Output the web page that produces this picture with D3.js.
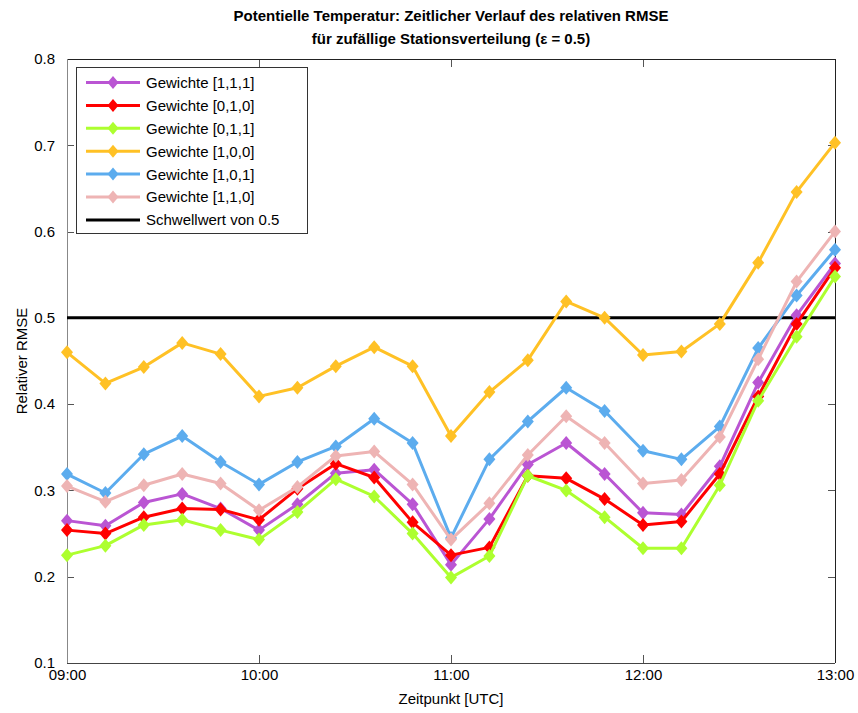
<!DOCTYPE html>
<html>
<head>
<meta charset="utf-8">
<script src="https://cdn.jsdelivr.net/npm/d3@7"></script>
<style>
  html, body { margin: 0; padding: 0; background: #fff; }
  svg { display: block; font-family: "Liberation Sans", Arial, sans-serif; }
</style>
</head>
<body>
<svg id="chart" width="858" height="713"></svg>
<script>
// Time points in hours (09:00 .. 13:00, every 12 minutes)
const times = [9.0, 9.2, 9.4, 9.6, 9.8, 10.0, 10.2, 10.4, 10.6, 10.8, 11.0,
               11.2, 11.4, 11.6, 11.8, 12.0, 12.2, 12.4, 12.6, 12.8, 13.0];

// Relative RMSE per weighting
const w111 = [0.265, 0.259, 0.286, 0.296, 0.279, 0.254, 0.284, 0.320, 0.324, 0.284, 0.214,
              0.267, 0.330, 0.355, 0.319, 0.274, 0.272, 0.328, 0.425, 0.503, 0.563];
const w010 = [0.254, 0.250, 0.269, 0.279, 0.278, 0.266, 0.302, 0.331, 0.315, 0.263, 0.225,
              0.234, 0.317, 0.314, 0.290, 0.260, 0.264, 0.319, 0.409, 0.493, 0.558];
const w011 = [0.225, 0.236, 0.260, 0.266, 0.254, 0.243, 0.275, 0.313, 0.293, 0.250, 0.199,
              0.224, 0.317, 0.300, 0.269, 0.233, 0.233, 0.306, 0.404, 0.478, 0.548];
const w100 = [0.460, 0.424, 0.443, 0.471, 0.458, 0.409, 0.419, 0.444, 0.466, 0.444, 0.363,
              0.414, 0.451, 0.519, 0.500, 0.457, 0.461, 0.493, 0.564, 0.646, 0.703];
const w101 = [0.319, 0.297, 0.342, 0.363, 0.333, 0.307, 0.333, 0.351, 0.383, 0.355, 0.245,
              0.336, 0.380, 0.419, 0.392, 0.346, 0.336, 0.374, 0.465, 0.526, 0.579];
const w110 = [0.305, 0.287, 0.306, 0.319, 0.308, 0.277, 0.304, 0.340, 0.345, 0.307, 0.243,
              0.285, 0.341, 0.386, 0.355, 0.308, 0.312, 0.362, 0.452, 0.542, 0.600];

const threshold = 0.5;

const seriesNames = ["Gewichte [1,1,1]", "Gewichte [0,1,0]", "Gewichte [0,1,1]",
                     "Gewichte [1,0,0]", "Gewichte [1,0,1]", "Gewichte [1,1,0]"];
const seriesColors = ["#ba55d3", "#ff0000", "#adff2f", "#ffc125", "#5cacee", "#eeb4b4"];
const seriesValues = [w111, w010, w011, w100, w101, w110];
const thresholdLabel = "Schwellwert von 0.5";

const xTicks = [9, 10, 11, 12, 13];
const xTickLabels = ["09:00", "10:00", "11:00", "12:00", "13:00"];
const yTicks = [0.1, 0.2, 0.3, 0.4, 0.5, 0.6, 0.7, 0.8];

const titleLines = ["Potentielle Temperatur: Zeitlicher Verlauf des relativen RMSE",
                    "für zufällige Stationsverteilung (ε = 0.5)"];
const xLabel = "Zeitpunkt [UTC]";
const yLabel = "Relativer RMSE";

// Layout
const svg = d3.select("#chart");
const plot = { left: 67, right: 835, top: 59, bottom: 663 };

const x = d3.scaleLinear().domain([9, 13]).range([plot.left, plot.right]);
const y = d3.scaleLinear().domain([0.1, 0.8]).range([plot.bottom, plot.top]);

// Title
svg.append("g").selectAll("text").data(titleLines).join("text")
  .attr("x", (plot.left + plot.right) / 2)
  .attr("y", (d, i) => 21 + i * 22.5)
  .attr("text-anchor", "middle")
  .attr("font-size", 15)
  .attr("font-weight", "bold")
  .attr("fill", "#000")
  .text(d => d);

// Axes (ticks point inward, mirrored on opposite sides)
const tickFont = 15;
const gx = svg.append("g").attr("transform", `translate(0,${plot.bottom})`)
  .call(d3.axisBottom(x).tickValues(xTicks).tickFormat((d, i) => xTickLabels[i])
        .tickSizeInner(-8).tickSizeOuter(0).tickPadding(12));
const gxTop = svg.append("g").attr("transform", `translate(0,${plot.top})`)
  .call(d3.axisTop(x).tickValues(xTicks).tickFormat("").tickSizeInner(-8).tickSizeOuter(0));
const gy = svg.append("g").attr("transform", `translate(${plot.left},0)`)
  .call(d3.axisLeft(y).tickValues(yTicks).tickFormat(d3.format(".1f"))
        .tickSizeInner(-7).tickSizeOuter(0).tickPadding(12));
const gyRight = svg.append("g").attr("transform", `translate(${plot.right},0)`)
  .call(d3.axisRight(y).tickValues(yTicks).tickFormat("").tickSizeInner(-7).tickSizeOuter(0));

[gx, gxTop, gy, gyRight].forEach(g => {
  g.select(".domain").remove();
  g.selectAll(".tick line").attr("stroke", "#555").attr("shape-rendering", "crispEdges");
  g.selectAll(".tick text").attr("font-size", tickFont).attr("fill", "#000")
    .attr("font-family", "'Liberation Sans', Arial, sans-serif");
});
gx.selectAll(".tick text").attr("dy", "0.35em");

// Axis box
const box = svg.append("g").attr("shape-rendering", "crispEdges").attr("fill", "none");
box.append("line").attr("x1", plot.left).attr("x2", plot.right)
  .attr("y1", plot.top).attr("y2", plot.top).attr("stroke", "#222");
box.append("line").attr("x1", plot.right).attr("x2", plot.right)
  .attr("y1", plot.top).attr("y2", plot.bottom).attr("stroke", "#222");
box.append("line").attr("x1", plot.left).attr("x2", plot.right)
  .attr("y1", plot.bottom).attr("y2", plot.bottom).attr("stroke", "#444");
box.append("line").attr("x1", plot.left).attr("x2", plot.left)
  .attr("y1", plot.top).attr("y2", plot.bottom).attr("stroke", "#888");

// Axis labels
svg.append("text")
  .attr("x", (plot.left + plot.right) / 2).attr("y", 704)
  .attr("text-anchor", "middle").attr("font-size", tickFont).attr("fill", "#000")
  .text(xLabel);
svg.append("text")
  .attr("transform", `translate(27,${(plot.top + plot.bottom) / 2}) rotate(-90)`)
  .attr("text-anchor", "middle").attr("font-size", tickFont).attr("fill", "#000")
  .text(yLabel);

// Threshold line
svg.append("line")
  .attr("x1", x(9)).attr("x2", x(13))
  .attr("y1", y(threshold)).attr("y2", y(threshold))
  .attr("stroke", "#000").attr("stroke-width", 3);

// Series lines and diamond markers
const line = d3.line().x((d, i) => x(times[i])).y(d => y(d));
const diamond = (cx, cy, w, h) =>
  `M${cx},${cy - h / 2}L${cx + w / 2},${cy}L${cx},${cy + h / 2}L${cx - w / 2},${cy}Z`;

seriesValues.forEach((vals, k) => {
  const g = svg.append("g");
  g.append("path").datum(vals)
    .attr("d", line)
    .attr("fill", "none")
    .attr("stroke", seriesColors[k])
    .attr("stroke-width", 3)
    .attr("stroke-linejoin", "round");
  g.selectAll("path.m").data(vals).join("path")
    .attr("class", "m")
    .attr("d", (d, i) => diamond(x(times[i]), y(d), 12, 14))
    .attr("fill", seriesColors[k]);
});

// Legend
const legend = svg.append("g");
const lg = { x: 76, y: 67, w: 231, h: 166, rowH: 22.9, first: 82.5 };
legend.append("rect")
  .attr("x", lg.x + 0.5).attr("y", lg.y + 0.5)
  .attr("width", lg.w).attr("height", lg.h)
  .attr("fill", "#fff").attr("stroke", "#333").attr("shape-rendering", "crispEdges");

const legendItems = seriesNames.map((n, i) => ({ name: n, color: seriesColors[i], marker: true }))
  .concat([{ name: thresholdLabel, color: "#000", marker: false }]);

legendItems.forEach((it, i) => {
  const cy = lg.first + i * lg.rowH;
  legend.append("line")
    .attr("x1", 86).attr("x2", 140).attr("y1", cy).attr("y2", cy)
    .attr("stroke", it.color).attr("stroke-width", 3);
  if (it.marker) {
    legend.append("path").attr("d", diamond(113, cy, 11, 13)).attr("fill", it.color);
  }
  legend.append("text")
    .attr("x", 146).attr("y", cy).attr("dy", "0.36em")
    .attr("font-size", tickFont).attr("fill", "#000")
    .text(it.name);
});
</script>
</body>
</html>
